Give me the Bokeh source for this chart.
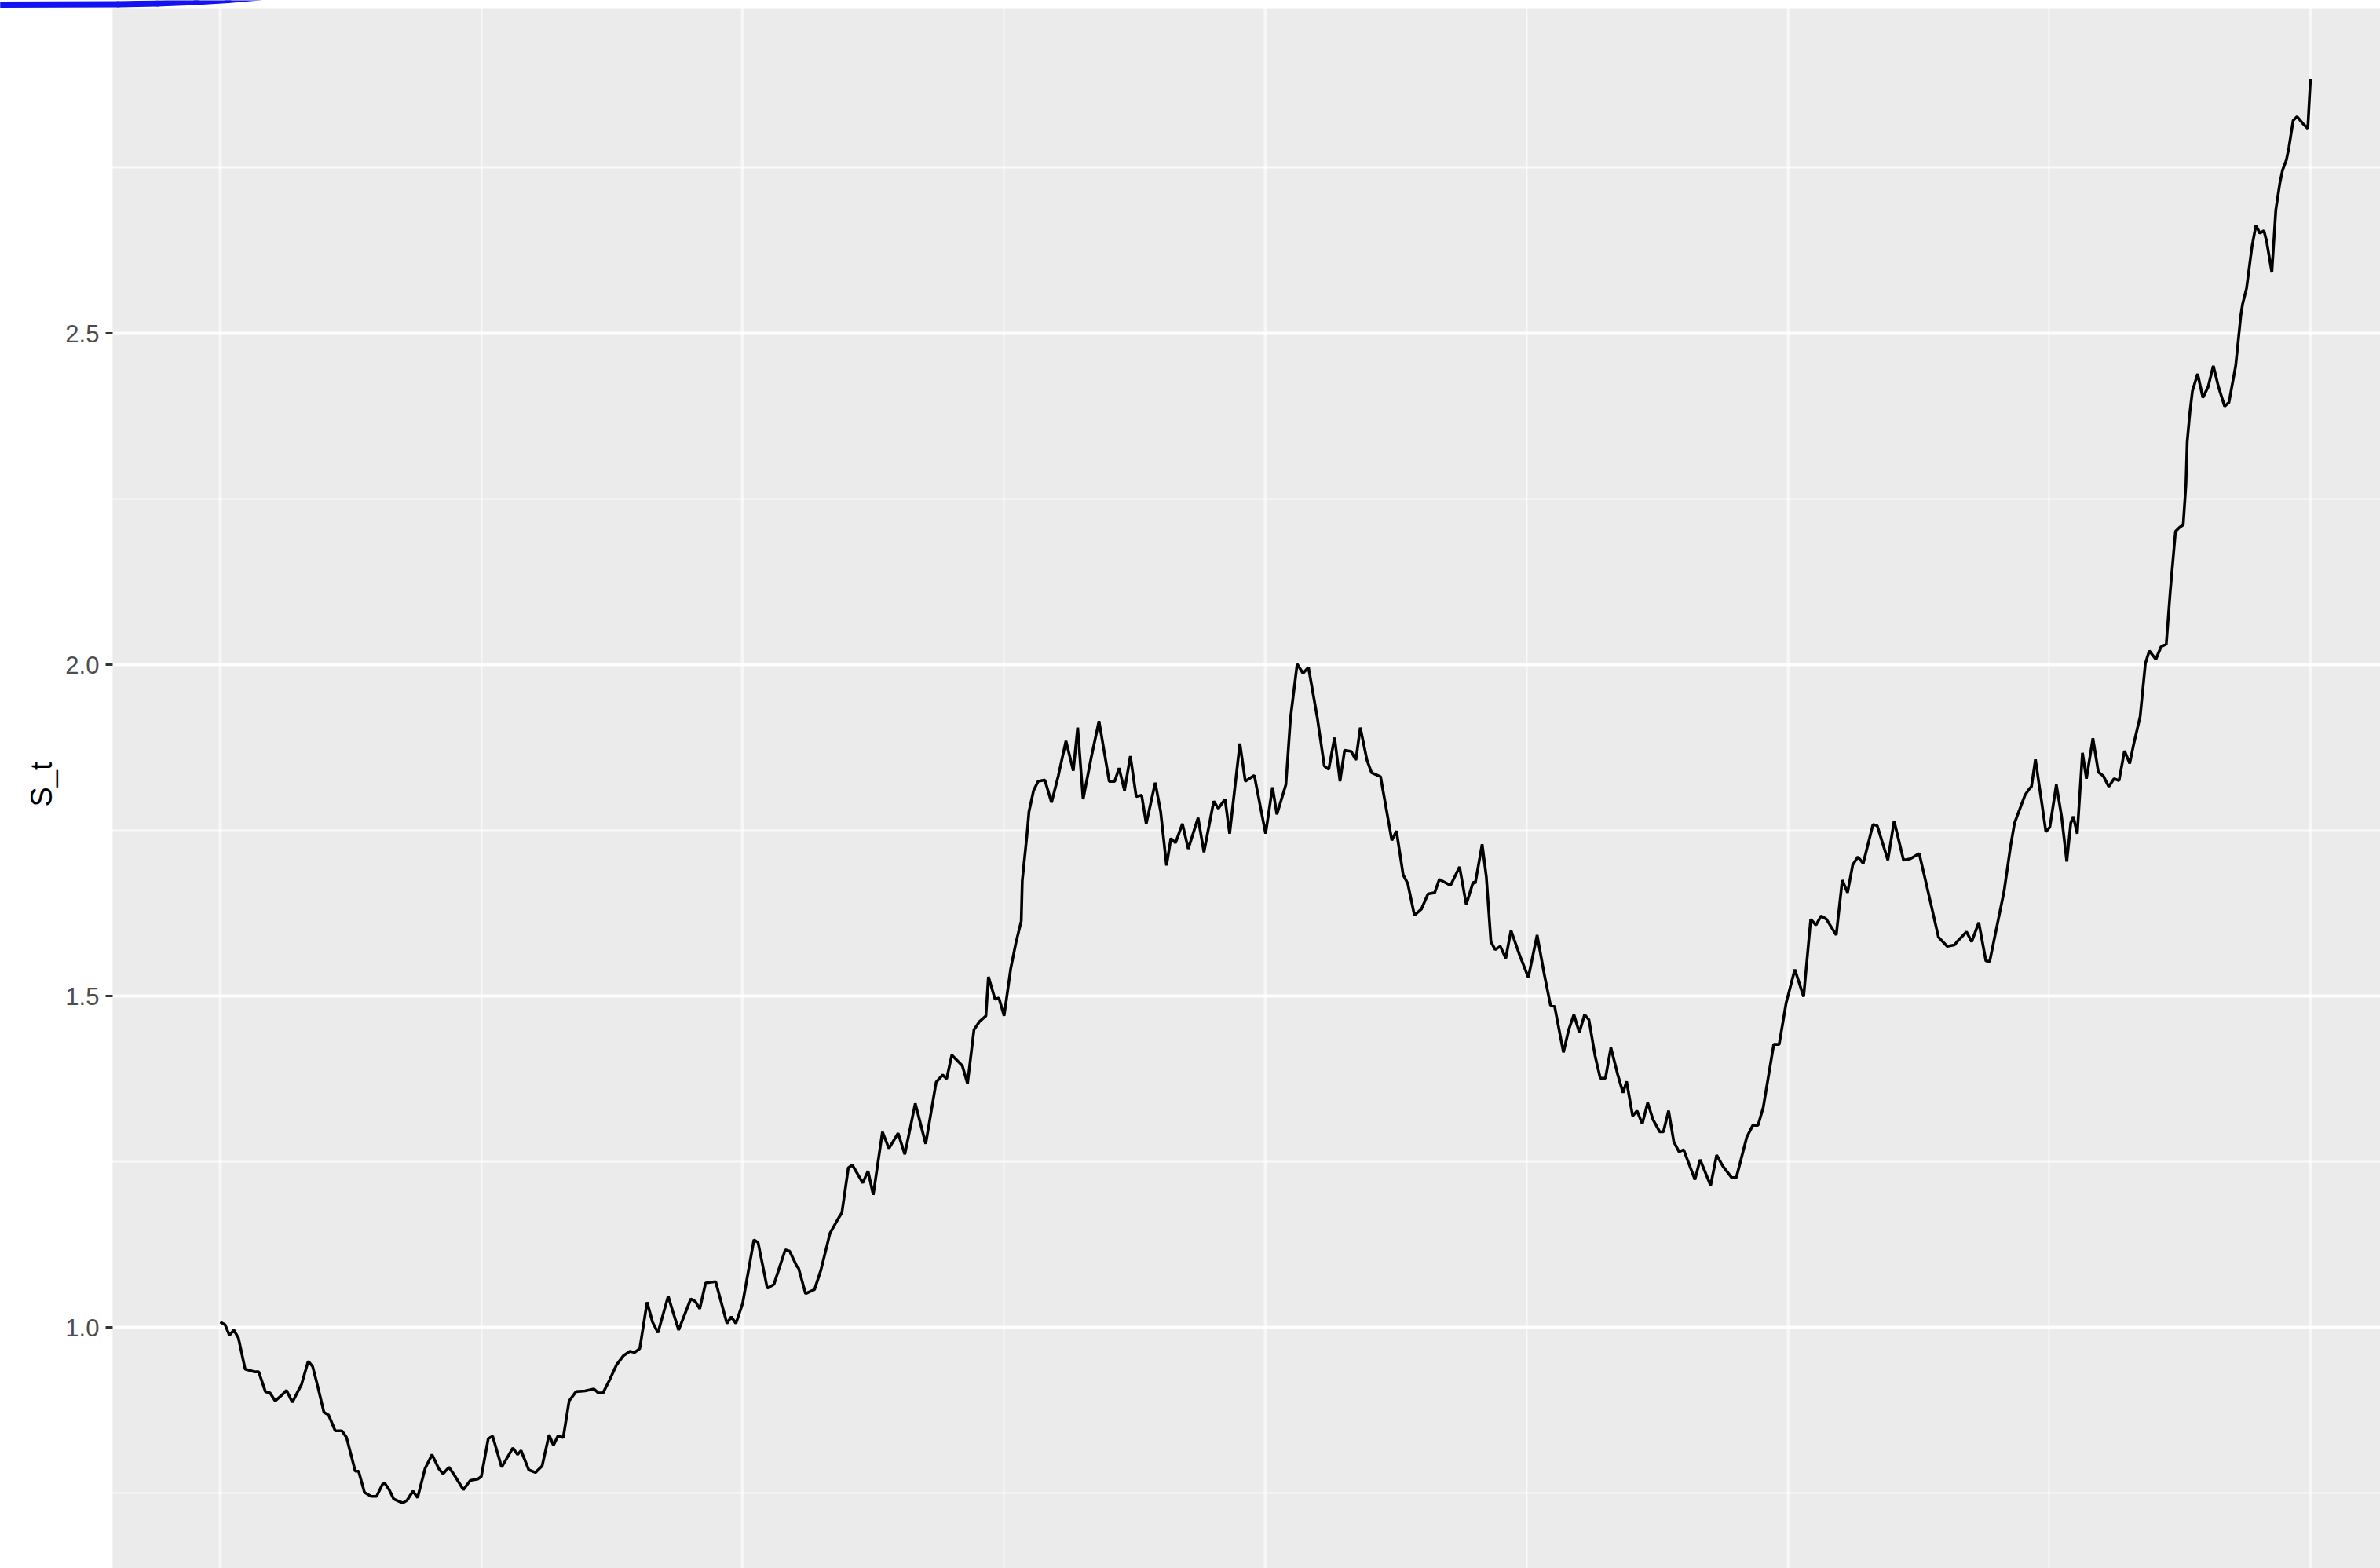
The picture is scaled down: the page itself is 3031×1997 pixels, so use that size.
from bokeh.plotting import figure
from bokeh.models import FixedTicker, PrintfTickFormatter, Grid, Arrow, BoxAnnotation, ColumnDataSource
from bokeh.embed import file_html
from bokeh.resources import INLINE

# Simulated price path S_t over t in [0, 1]
t = [
    0.0000, 0.0023, 0.0044, 0.0065, 0.0087, 0.0119, 0.0162, 0.0184, 0.0216, 0.0238,
    0.0263, 0.0292, 0.0317, 0.0345, 0.0389, 0.0421, 0.0442, 0.0464, 0.0496, 0.0518,
    0.0550, 0.0582, 0.0604, 0.0646, 0.0662, 0.0690, 0.0722, 0.0748, 0.0776, 0.0787,
    0.0808, 0.0830, 0.0873, 0.0894, 0.0922, 0.0944, 0.0980, 0.1013, 0.1045, 0.1066,
    0.1094, 0.1120, 0.1163, 0.1196, 0.1232, 0.1249, 0.1282, 0.1303, 0.1346, 0.1400,
    0.1422, 0.1439, 0.1476, 0.1508, 0.1540, 0.1573, 0.1594, 0.1615, 0.1641, 0.1669,
    0.1702, 0.1745, 0.1788, 0.1809, 0.1831, 0.1863, 0.1895, 0.1928, 0.1960, 0.1982,
    0.2007, 0.2042, 0.2068, 0.2094, 0.2143, 0.2165, 0.2193, 0.2251, 0.2273, 0.2294,
    0.2322, 0.2370, 0.2424, 0.2445, 0.2467, 0.2499, 0.2553, 0.2573, 0.2617, 0.2649,
    0.2703, 0.2724, 0.2757, 0.2767, 0.2800, 0.2843, 0.2874, 0.2917, 0.2960, 0.2974,
    0.3005, 0.3024, 0.3074, 0.3099, 0.3124, 0.3168, 0.3199, 0.3243, 0.3275, 0.3325,
    0.3375, 0.3425, 0.3456, 0.3475, 0.3500, 0.3550, 0.3575, 0.3606, 0.3631, 0.3663,
    0.3675, 0.3707, 0.3725, 0.3750, 0.3782, 0.3807, 0.3832, 0.3837, 0.3859, 0.3869,
    0.3891, 0.3913, 0.3945, 0.3977, 0.4010, 0.4046, 0.4081, 0.4102, 0.4128, 0.4167,
    0.4204, 0.4253, 0.4279, 0.4300, 0.4326, 0.4354, 0.4382, 0.4408, 0.4430, 0.4473,
    0.4499, 0.4527, 0.4548, 0.4570, 0.4603, 0.4631, 0.4678, 0.4706, 0.4753, 0.4775,
    0.4807, 0.4829, 0.4878, 0.4904, 0.4947, 0.5001, 0.5034, 0.5055, 0.5098, 0.5120,
    0.5152, 0.5180, 0.5206, 0.5249, 0.5282, 0.5303, 0.5331, 0.5357, 0.5379, 0.5411,
    0.5433, 0.5454, 0.5486, 0.5508, 0.5551, 0.5605, 0.5627, 0.5659, 0.5681, 0.5713,
    0.5746, 0.5778, 0.5810, 0.5832, 0.5886, 0.5929, 0.5961, 0.5994, 0.6004, 0.6037,
    0.6057, 0.6079, 0.6099, 0.6124, 0.6150, 0.6175, 0.6216, 0.6258, 0.6300, 0.6334,
    0.6364, 0.6384, 0.6426, 0.6451, 0.6476, 0.6502, 0.6527, 0.6548, 0.6577, 0.6602,
    0.6627, 0.6653, 0.6686, 0.6711, 0.6728, 0.6757, 0.6778, 0.6803, 0.6829, 0.6854,
    0.6887, 0.6904, 0.6929, 0.6954, 0.6979, 0.7001, 0.7055, 0.7080, 0.7130, 0.7159,
    0.7189, 0.7231, 0.7253, 0.7303, 0.7332, 0.7357, 0.7382, 0.7432, 0.7458, 0.7491,
    0.7533, 0.7575, 0.7609, 0.7634, 0.7659, 0.7684, 0.7731, 0.7760, 0.7785, 0.7810,
    0.7835, 0.7860, 0.7907, 0.7927, 0.7978, 0.8008, 0.8053, 0.8086, 0.8128, 0.8170,
    0.8220, 0.8262, 0.8296, 0.8312, 0.8354, 0.8379, 0.8413, 0.8447, 0.8465, 0.8534,
    0.8565, 0.8584, 0.8634, 0.8653, 0.8665, 0.8684, 0.8709, 0.8734, 0.8753, 0.8784,
    0.8809, 0.8834, 0.8853, 0.8865, 0.8884, 0.8909, 0.8928, 0.8959, 0.8985, 0.9009,
    0.9035, 0.9060, 0.9084, 0.9110, 0.9135, 0.9154, 0.9185, 0.9210, 0.9229, 0.9260,
    0.9285, 0.9310, 0.9329, 0.9354, 0.9373, 0.9391, 0.9404, 0.9410, 0.9423, 0.9435,
    0.9460, 0.9485, 0.9510, 0.9535, 0.9560, 0.9589, 0.9610, 0.9642, 0.9667, 0.9675,
    0.9694, 0.9720, 0.9739, 0.9758, 0.9777, 0.9790, 0.9815, 0.9834, 0.9853, 0.9866,
    0.9885, 0.9897, 0.9917, 0.9936, 0.9962, 0.9987, 1.0000,
]

s_t = [
    1.008, 1.004, 0.988, 0.996, 0.984, 0.937, 0.933, 0.933, 0.903, 0.901,
    0.889, 0.897, 0.905, 0.887, 0.914, 0.949, 0.941, 0.914, 0.872, 0.868,
    0.844, 0.844, 0.834, 0.783, 0.783, 0.751, 0.745, 0.745, 0.763, 0.765,
    0.755, 0.741, 0.735, 0.739, 0.753, 0.743, 0.787, 0.808, 0.787, 0.779,
    0.789, 0.777, 0.755, 0.769, 0.771, 0.775, 0.832, 0.836, 0.789, 0.818,
    0.808, 0.814, 0.785, 0.781, 0.791, 0.838, 0.822, 0.836, 0.834, 0.889,
    0.903, 0.904, 0.907, 0.901, 0.901, 0.921, 0.943, 0.957, 0.964, 0.962,
    0.968, 1.038, 1.008, 0.992, 1.047, 1.024, 0.996, 1.043, 1.039, 1.028,
    1.067, 1.069, 1.006, 1.016, 1.006, 1.036, 1.132, 1.128, 1.059, 1.065,
    1.117, 1.115, 1.093, 1.089, 1.051, 1.057, 1.087, 1.142, 1.166, 1.173,
    1.241, 1.245, 1.218, 1.236, 1.200, 1.295, 1.270, 1.293, 1.261, 1.338,
    1.277, 1.370, 1.381, 1.375, 1.411, 1.395, 1.368, 1.449, 1.461, 1.470,
    1.529, 1.495, 1.497, 1.470, 1.542, 1.581, 1.613, 1.674, 1.742, 1.778,
    1.810, 1.824, 1.826, 1.792, 1.833, 1.885, 1.840, 1.905, 1.797, 1.860,
    1.915, 1.824, 1.824, 1.844, 1.810, 1.862, 1.801, 1.803, 1.760, 1.822,
    1.778, 1.697, 1.738, 1.731, 1.760, 1.722, 1.769, 1.717, 1.794, 1.783,
    1.797, 1.745, 1.881, 1.824, 1.833, 1.745, 1.815, 1.774, 1.819, 1.919,
    2.001, 1.987, 1.996, 1.919, 1.847, 1.842, 1.890, 1.824, 1.871, 1.869,
    1.856, 1.905, 1.856, 1.837, 1.831, 1.735, 1.749, 1.683, 1.670, 1.622,
    1.631, 1.654, 1.656, 1.676, 1.667, 1.695, 1.638, 1.672, 1.670, 1.729,
    1.680, 1.582, 1.570, 1.575, 1.557, 1.599, 1.562, 1.528, 1.592, 1.533,
    1.486, 1.484, 1.415, 1.449, 1.472, 1.445, 1.472, 1.464, 1.410, 1.376,
    1.376, 1.422, 1.381, 1.354, 1.371, 1.319, 1.327, 1.307, 1.339, 1.314,
    1.295, 1.295, 1.327, 1.280, 1.265, 1.268, 1.223, 1.253, 1.214, 1.260,
    1.243, 1.226, 1.226, 1.287, 1.305, 1.305, 1.332, 1.427, 1.427, 1.489,
    1.540, 1.499, 1.616, 1.607, 1.621, 1.616, 1.592, 1.675, 1.656, 1.698,
    1.710, 1.700, 1.759, 1.757, 1.705, 1.764, 1.705, 1.707, 1.715, 1.658,
    1.589, 1.575, 1.577, 1.583, 1.597, 1.582, 1.611, 1.553, 1.552, 1.658,
    1.726, 1.761, 1.803, 1.812, 1.816, 1.857, 1.803, 1.748, 1.755, 1.819,
    1.771, 1.703, 1.761, 1.771, 1.745, 1.867, 1.828, 1.889, 1.838, 1.832,
    1.816, 1.828, 1.825, 1.870, 1.851, 1.880, 1.922, 2.002, 2.021, 2.008,
    2.027, 2.031, 2.111, 2.201, 2.207, 2.211, 2.272, 2.336, 2.381, 2.413,
    2.439, 2.403, 2.419, 2.451, 2.419, 2.390, 2.396, 2.451, 2.528, 2.544,
    2.568, 2.631, 2.663, 2.651, 2.655, 2.639, 2.592, 2.686, 2.726, 2.746,
    2.762, 2.781, 2.821, 2.827, 2.817, 2.809, 2.884,
]

y_breaks = [1.0, 1.5, 2.0, 2.5]
y_minor_breaks = [0.75, 1.25, 1.75, 2.25, 2.75]
x_breaks = [0.0, 0.25, 0.5, 0.75, 1.0]
x_minor_breaks = [0.125, 0.375, 0.625, 0.875]

W, H = 3031, 1997
PANEL_LEFT = -0.0515   # left edge of the grey panel (t units)
PANEL_TOP = 2.9905     # upper edge of the grey panel (S_t units)

# the frame covers the whole canvas; the grey panel is drawn inside it
p = figure(
    width=W, height=H,
    x_range=(-0.10518, 1.03343),
    y_range=(0.6363, 3.0024),
    x_axis_location=None,
    output_backend="svg",
    toolbar_location=None,
    min_border=0,
)
p.background_fill_color = "white"
p.border_fill_color = "white"
p.outline_line_color = None

p.add_layout(BoxAnnotation(left=PANEL_LEFT, top=PANEL_TOP, fill_color="#EBEBEB",
                           fill_alpha=1.0, line_color=None, level="image"))

# y axis, ggplot style, pinned to the panel's left edge
ax = p.yaxis[0]
ax.fixed_location = PANEL_LEFT
ax.ticker = FixedTicker(ticks=y_breaks)
ax.formatter = PrintfTickFormatter(format="%.1f")
ax.axis_line_color = None
ax.major_tick_line_color = "#333333"
ax.major_tick_line_width = 3
ax.major_tick_out = 9
ax.major_tick_in = 0
ax.minor_tick_line_color = None
ax.major_label_text_color = "#4D4D4D"
ax.major_label_text_font = "Liberation Sans"
ax.major_label_text_font_size = "31px"
ax.major_label_standoff = 8
ax.axis_label = "S_t"
ax.axis_label_text_font = "Liberation Sans"
ax.axis_label_text_font_size = "38px"
ax.axis_label_text_font_style = "normal"
ax.axis_label_text_color = "black"
ax.axis_label_standoff = 6

# grid lines (white, so they vanish on the white margins)
yg = p.ygrid[0]
yg.ticker = FixedTicker(ticks=y_breaks, minor_ticks=y_minor_breaks)
yg.grid_line_color = "white"
yg.grid_line_width = 4
yg.grid_line_alpha = 0.9
yg.minor_grid_line_color = "white"
yg.minor_grid_line_width = 2
yg.minor_grid_line_alpha = 0.75

if len(p.xgrid) == 0:
    p.add_layout(Grid(dimension=0), "center")
xg = p.xgrid[0]
xg.ticker = FixedTicker(ticks=x_breaks, minor_ticks=x_minor_breaks)
xg.grid_line_color = "white"
xg.grid_line_width = 4
xg.grid_line_alpha = 0.6
xg.minor_grid_line_color = "white"
xg.minor_grid_line_width = 2
xg.minor_grid_line_alpha = 0.6

p.line(t, s_t, line_color="black", line_width=3.6)

# blue pen stroke across the top-left corner, in frame pixels
# (x from the left edge, y up from the bottom edge)
pen_x = [-10, 0, 150, 200, 250, 290, 330]
pen_y = [1991.5, 1991.5, 1992.0, 1993.0, 1995.0, 1997.5, 2001.0]
pen = ColumnDataSource(dict(x0=pen_x[:-1], y0=pen_y[:-1], x1=pen_x[1:], y1=pen_y[1:]))
p.add_layout(Arrow(
    end=None, source=pen,
    x_start="x0", y_start="y0", x_end="x1", y_end="y1",
    start_units="screen", end_units="screen",
    line_color="#1212F2", line_width=8, line_cap="round", line_join="round",
))

open("out.html", "w").write(file_html(p, INLINE))
